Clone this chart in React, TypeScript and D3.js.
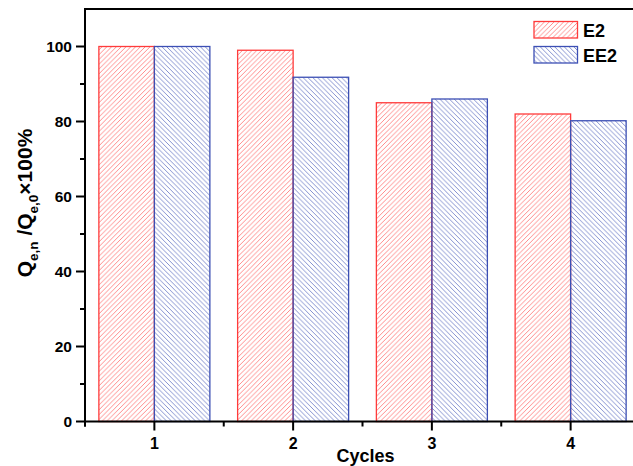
import React from "react";
import * as d3 from "d3";

const cycles = [1, 2, 3, 4];
const seriesNames = ["E2", "EE2"];
const e2Values = [100, 99, 85, 82];
const ee2Values = [100, 91.8, 86, 80.2];
const yTicks = [0, 20, 40, 60, 80, 100];
const yMinorTicks = [10, 30, 50, 70, 90];
const xMinorTicks = [0.5, 1.5, 2.5, 3.5];

const W = 633;
const H = 466;

export default function App() {
  const x = d3.scaleLinear().domain([0.5, 4.5]).range([85, 640]);
  const y = d3.scaleLinear().domain([0, 110]).range([421.5, 9]);
  const barW = x(1.4) - x(1);
  const font = "'Liberation Sans', Arial, sans-serif";
  const red = "#ff3b3b";
  const redHatch = "#ff7070";
  const blue = "#3c4fb4";
  const blueHatch = "#6676c4";
  const hs = 4.8;

  const series = [
    { name: seriesNames[0], values: e2Values, offset: -barW, fill: "url(#hatchRed)", stroke: red },
    { name: seriesNames[1], values: ee2Values, offset: 0, fill: "url(#hatchBlue)", stroke: blue },
  ];

  return (
    <svg
      width={W}
      height={H}
      style={{ position: "absolute", left: 0, top: 0, background: "#fff" }}
      fontFamily={font}
    >
      <defs>
        <pattern id="hatchRed" patternUnits="userSpaceOnUse" width={hs} height={hs}>
          <path
            d={`M0,${hs} L${hs},0 M${-hs / 2},${hs / 2} L${hs / 2},${-hs / 2} M${hs / 2},${hs * 1.5} L${hs * 1.5},${hs / 2}`}
            stroke={redHatch}
            strokeWidth={0.8}
          />
        </pattern>
        <pattern id="hatchBlue" patternUnits="userSpaceOnUse" width={hs} height={hs}>
          <path
            d={`M0,0 L${hs},${hs} M${-hs / 2},${hs / 2} L${hs / 2},${hs * 1.5} M${hs / 2},${-hs / 2} L${hs * 1.5},${hs / 2}`}
            stroke={blueHatch}
            strokeWidth={0.8}
          />
        </pattern>
      </defs>

      {/* bars */}
      {series.map((s) =>
        s.values.map((v, i) => (
          <rect
            key={s.name + i}
            x={x(cycles[i]) + s.offset}
            y={y(v)}
            width={barW}
            height={y(0) - y(v)}
            fill={s.fill}
            stroke={s.stroke}
            strokeWidth={1.3}
          />
        ))
      )}

      {/* axes */}
      <line x1={x(0.5)} x2={W} y1={y(110)} y2={y(110)} stroke="#000" strokeWidth={2} />
      <line x1={x(0.5)} x2={x(0.5)} y1={y(110) - 1} y2={y(0) + 5} stroke="#000" strokeWidth={2} />
      <line x1={x(0.5) - 1} x2={W} y1={y(0)} y2={y(0)} stroke="#000" strokeWidth={2} />

      {yTicks.map((t) => (
        <g key={"yt" + t}>
          <line x1={x(0.5) - 9} x2={x(0.5)} y1={y(t)} y2={y(t)} stroke="#000" strokeWidth={2} />
          <text
            x={x(0.5) - 13}
            y={y(t)}
            dy="0.36em"
            textAnchor="end"
            fontSize={15.5}
            fontWeight="bold"
          >
            {t}
          </text>
        </g>
      ))}
      {yMinorTicks.map((t) => (
        <line key={"ym" + t} x1={x(0.5) - 5} x2={x(0.5)} y1={y(t)} y2={y(t)} stroke="#000" strokeWidth={2} />
      ))}

      {cycles.map((c) => (
        <g key={"xt" + c}>
          <line x1={x(c)} x2={x(c)} y1={y(0)} y2={y(0) + 9} stroke="#000" strokeWidth={2} />
          <text x={x(c)} y={448.5} textAnchor="middle" fontSize={16} fontWeight="bold">
            {c}
          </text>
        </g>
      ))}
      {xMinorTicks.map((t) => (
        <line key={"xm" + t} x1={x(t)} x2={x(t)} y1={y(0)} y2={y(0) + 5} stroke="#000" strokeWidth={2} />
      ))}

      <text x={(x(0.5) + x(4.5)) / 2 + 3} y={462} textAnchor="middle" fontSize={18} fontWeight="bold">
        Cycles
      </text>

      <text
        transform={`translate(32, ${203}) rotate(-90)`}
        textAnchor="middle"
        fontSize={21}
        fontWeight="bold"
      >
        <tspan>Q</tspan>
        <tspan fontSize={13.5} dy={6}>e,n</tspan>
        <tspan dy={-6}> /Q</tspan>
        <tspan fontSize={13.5} dy={6}>e,0</tspan>
        <tspan dy={-6}>×100%</tspan>
      </text>

      {/* legend */}
      {series.map((s, i) => (
        <g key={"lg" + s.name} transform={`translate(0, ${i * 25})`}>
          <rect x={534} y={21.5} width={43.5} height={16.5} fill={s.fill} stroke={s.stroke} strokeWidth={1.3} />
          <text x={583} y={36.5} fontSize={18} fontWeight="bold">
            {s.name}
          </text>
        </g>
      ))}
    </svg>
  );
}
